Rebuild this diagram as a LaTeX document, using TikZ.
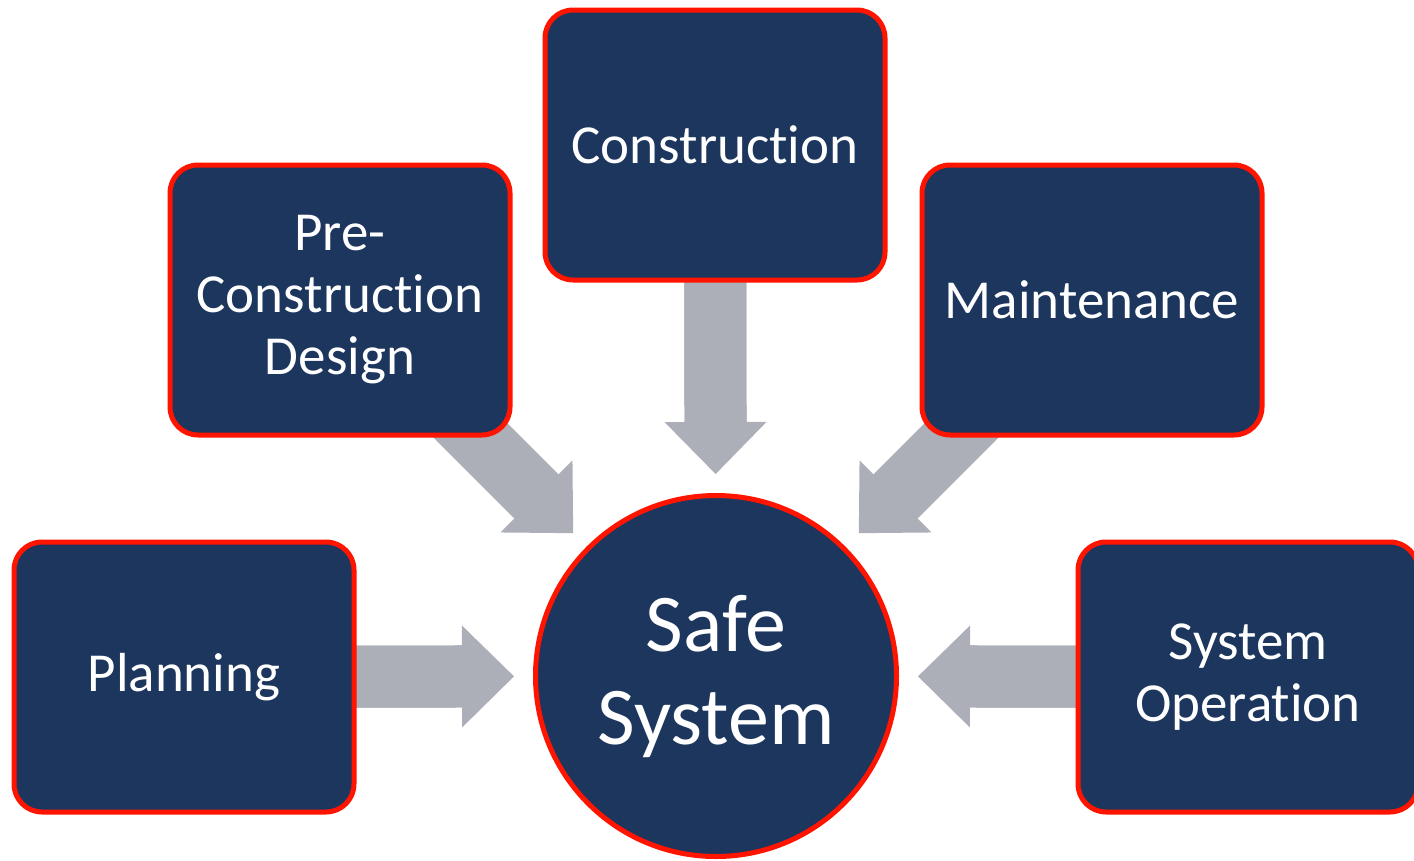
\documentclass[tikz,border=0pt]{standalone}
\usepackage{fontspec}
\setmainfont{Carlito}[Ligatures=NoCommon]
\usetikzlibrary{arrows.meta,backgrounds}
\definecolor{navy}{RGB}{28,54,94}
\definecolor{rim}{RGB}{255,20,0}
\definecolor{steel}{RGB}{172,174,184}

\begin{document}
\begin{tikzpicture}[x=1pt,y=-1pt,
  phase/.style={draw=rim, line width=5pt, fill=navy, rounded corners=28pt,
    minimum width=340pt, minimum height=270pt, inner sep=0pt,
    text=white, align=center, font=\fontsize{55}{62}\selectfont},
  hub/.style={circle, draw=rim, line width=5pt, fill=navy, minimum size=361pt,
    inner sep=0pt, text=white, align=center, font=\fontsize{82}{93}\selectfont},
  feed/.style={draw=steel, line width=62pt, shorten >=19pt,
    -{Triangle[length=52pt, width=102pt, line width=0pt]},
    postaction={draw=steel, line width=62pt, -, shorten >=55pt}}]
\useasboundingbox (0,0) rectangle (1414,860);

\draw (184,677)  node (plan)  [phase] {Planning};
\draw (340,300)  node (pre)   [phase] {Pre-\\Construction\\Design};
\draw (715,145)  node (cons)  [phase] {Construction};
\draw (1092,300) node (maint) [phase] {Maintenance};
\draw (1248,677) node (oper)  [phase] {System\\Operation};

\draw (716,676)  node (safe)  [hub] {Safe\\System};

% arrows run behind the boxes
\begin{scope}[on background layer]
\draw[feed] (plan.center)  -- (safe);
\draw[feed] (pre.center)   -- (safe);
\draw[feed] (cons.center)  -- (safe);
\draw[feed] (maint.center) -- (safe);
\draw[feed] (oper.center)  -- (safe);
\end{scope}
\end{tikzpicture}
\end{document}
